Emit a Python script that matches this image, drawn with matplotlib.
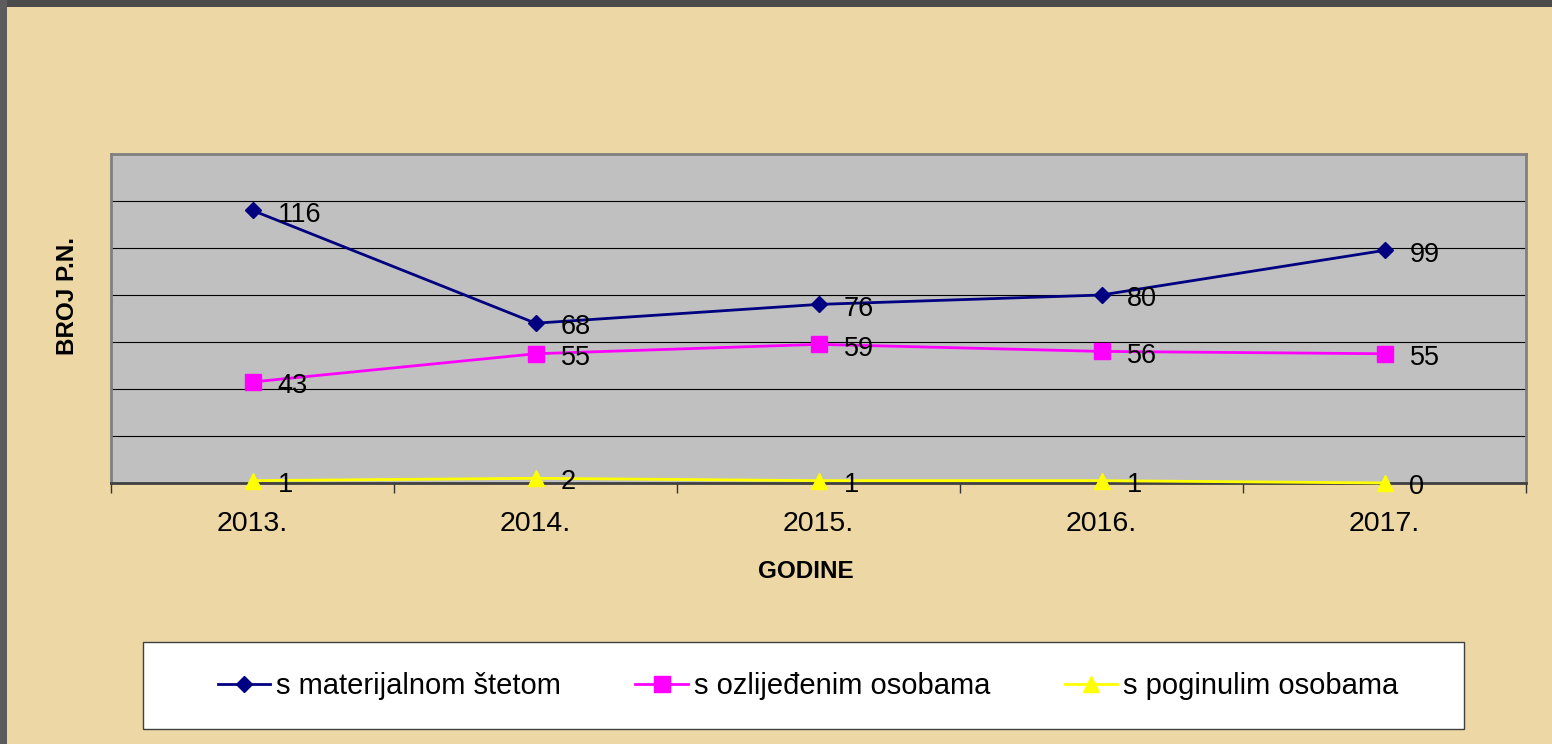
import matplotlib
matplotlib.use("Agg")
import matplotlib.pyplot as plt
from matplotlib.patches import Rectangle

# data
years = ['2013.', '2014.', '2015.', '2016.', '2017.']
materijalna = [116, 68, 76, 80, 99]
ozlijedeni = [43, 55, 59, 56, 55]
poginuli = [1, 2, 1, 1, 0]
series_names = ['s materijalnom štetom', 's ozlijeđenim osobama', 's poginulim osobama']
y_grid = [0, 20, 40, 60, 80, 100, 120, 140]

plt.rcParams['font.family'] = ['Liberation Sans', 'DejaVu Sans']

W, H = 1552, 744
fig = plt.figure(figsize=(W / 100, H / 100), dpi=100)
fig.patch.set_facecolor('#EDD8A5')

# dark frame strips (top and left)
fig.add_artist(Rectangle((0, 1 - 7 / H), 1, 7 / H, transform=fig.transFigure,
                         facecolor='#4b4b4b', edgecolor='none', zorder=0))
fig.add_artist(Rectangle((0, 0), 7 / W, 1, transform=fig.transFigure,
                         facecolor='#5c5c5c', edgecolor='none', zorder=0))

ax = fig.add_axes([111 / W, 1 - 483 / H, 1415 / W, 329 / H])
ax.set_facecolor('#C0C0C0')

x = list(range(len(years)))
l1, = ax.plot(x, materijalna, color='#000080', lw=2, marker='D', ms=8.5, zorder=4, clip_on=False)
l2, = ax.plot(x, ozlijedeni, color='#FF00FF', lw=2, marker='s', ms=11, zorder=4, clip_on=False)
l3, = ax.plot(x, poginuli, color='#FFFF00', lw=2, marker='^', ms=11, zorder=4, clip_on=False)

for vals in (materijalna, ozlijedeni, poginuli):
    for i, v in enumerate(vals):
        ax.annotate(str(v), (i, v), xytext=(18, -3), textcoords='offset points',
                    ha='left', va='center', fontsize=19.5, color='black', zorder=5,
                    annotation_clip=False)

ax.set_xlim(-0.5, len(years) - 0.5)
ax.set_ylim(0, 140)
ax.set_yticks(y_grid)
ax.set_yticklabels([])
ax.tick_params(axis='y', length=0)
ax.yaxis.grid(True, color='black', lw=0.8)
ax.set_axisbelow(True)

ax.set_xticks(x)
ax.set_xticklabels(years, fontsize=20.5)
ax.set_xticks([i - 0.5 for i in range(len(years) + 1)], minor=True)
ax.tick_params(axis='x', which='major', length=0, pad=20)
ax.tick_params(axis='x', which='minor', length=7, width=1, color='#333333', direction='out')

for s in ('top', 'left', 'right'):
    ax.spines[s].set_color('#808080')
    ax.spines[s].set_linewidth(2)
ax.spines['bottom'].set_color('#404040')
ax.spines['bottom'].set_linewidth(2)

fig.text(806 / W, 1 - 571 / H, 'GODINE', ha='center', va='center',
         fontsize=17.5, fontweight='bold')
fig.text(68 / W, 1 - 296 / H, 'BROJ P.N.', ha='center', va='center',
         fontsize=17.5, fontweight='bold', rotation=90)

# legend box
fig.add_artist(Rectangle((143 / W, 1 - 729 / H), (1464 - 143) / W, 87 / H,
                         transform=fig.transFigure, facecolor='white',
                         edgecolor='#404040', lw=1, zorder=1))
fig.legend([l1, l2, l3], series_names, loc='center',
           bbox_to_anchor=(808 / W, 1 - 686 / H), ncol=3, frameon=False,
           fontsize=21, handlelength=1.8, handletextpad=0.2, columnspacing=2.55)

fig.savefig('out.png', dpi=100, facecolor=fig.get_facecolor())
